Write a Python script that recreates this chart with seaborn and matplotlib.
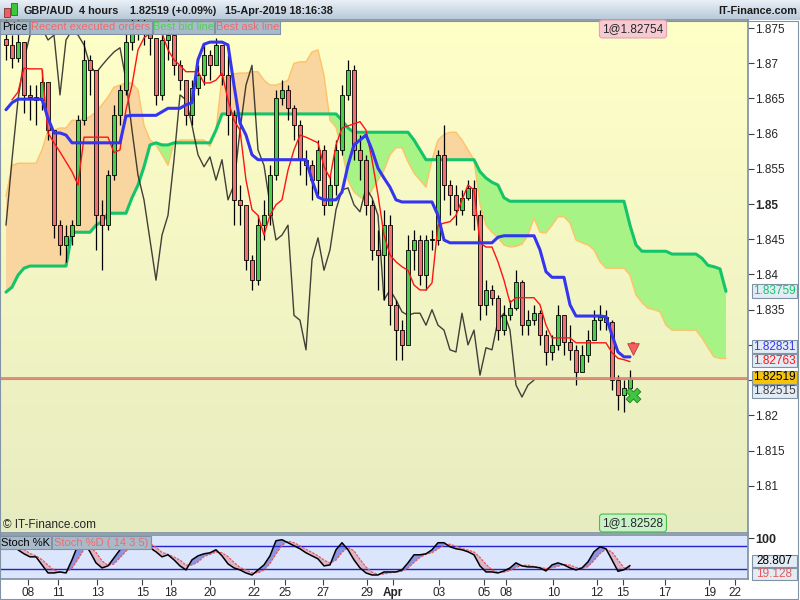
import numpy as np
import pandas as pd
import seaborn as sns
import matplotlib
matplotlib.use('Agg')
from matplotlib import pyplot as plt
from matplotlib.patches import Rectangle
from matplotlib.colors import LinearSegmentedColormap

sns.set_theme(style='white')
plt.rcParams['font.family'] = ['Liberation Sans', 'DejaVu Sans']

# GBP/AUD 4h bars (open = previous close)
first_open = 1.8735
close = [1.8726, 1.8707, 1.8730, 1.8655, 1.8652, 1.8648, 1.8673, 1.8605, 1.8470, 1.8442,
         1.8455, 1.8470, 1.8619, 1.8705, 1.8690, 1.8484, 1.8470, 1.8541, 1.8626, 1.8662,
         1.8730, 1.8750, 1.8754, 1.8747, 1.8736, 1.8655, 1.8733, 1.8740, 1.8697, 1.8676,
         1.8626, 1.8665, 1.8683, 1.8712, 1.8697, 1.8726, 1.8683, 1.8626, 1.8506, 1.8499,
         1.8421, 1.8392, 1.8470, 1.8484, 1.8541, 1.8651, 1.8662, 1.8636, 1.8612, 1.8563,
         1.8555, 1.8534, 1.8577, 1.8499, 1.8527, 1.8577, 1.8655, 1.8690, 1.8577, 1.8563,
         1.8499, 1.8435, 1.8428, 1.8470, 1.8357, 1.8321, 1.8300, 1.8435, 1.8449, 1.8399,
         1.8449, 1.8449, 1.8570, 1.8527, 1.8513, 1.8492, 1.8509, 1.8523, 1.8484, 1.8357,
         1.8378, 1.8367, 1.8321, 1.8342, 1.8352, 1.8389, 1.8328, 1.8335, 1.8345, 1.8314,
         1.8290, 1.8300, 1.8342, 1.8304, 1.8293, 1.8262, 1.8286, 1.8307, 1.8335, 1.8340,
         1.8333, 1.8250, 1.8229, 1.8239, 1.82519]
high = [1.8761, 1.8740, 1.8761, 1.8719, 1.8669, 1.8669, 1.8690, 1.8655, 1.8605, 1.8477,
        1.8470, 1.8477, 1.8626, 1.8733, 1.8712, 1.8634, 1.8506, 1.8548, 1.8641, 1.8669,
        1.8747, 1.8768, 1.8776, 1.8768, 1.8754, 1.8733, 1.8754, 1.8761, 1.8726, 1.8705,
        1.8669, 1.8676, 1.8697, 1.8726, 1.8719, 1.8736, 1.8726, 1.8712, 1.8634, 1.8527,
        1.8499, 1.8428, 1.8484, 1.8506, 1.8555, 1.8662, 1.8676, 1.8669, 1.8641, 1.8619,
        1.8577, 1.8563, 1.8591, 1.8584, 1.8541, 1.8591, 1.8669, 1.8705, 1.8697, 1.8598,
        1.8570, 1.8506, 1.8463, 1.8492, 1.8484, 1.8364, 1.8335, 1.8456, 1.8463, 1.8456,
        1.8456, 1.8463, 1.8577, 1.8612, 1.8534, 1.8527, 1.8520, 1.8534, 1.8534, 1.8492,
        1.8392, 1.8385, 1.8371, 1.8357, 1.8364, 1.8406, 1.8392, 1.8350, 1.8357, 1.8350,
        1.8321, 1.8314, 1.8357, 1.8342, 1.8328, 1.8300, 1.8300, 1.8321, 1.8350, 1.8357,
        1.8350, 1.8335, 1.8257, 1.8250, 1.8264]
low = [1.8705, 1.8693, 1.8702, 1.8630, 1.8619, 1.8612, 1.8634, 1.8591, 1.8452, 1.8428,
       1.8418, 1.8442, 1.8470, 1.8612, 1.8655, 1.8435, 1.8406, 1.8463, 1.8534, 1.8612,
       1.8655, 1.8719, 1.8733, 1.8726, 1.8712, 1.8641, 1.8648, 1.8705, 1.8683, 1.8662,
       1.8612, 1.8612, 1.8655, 1.8669, 1.8676, 1.8705, 1.8669, 1.8598, 1.8470, 1.8470,
       1.8406, 1.8378, 1.8385, 1.8449, 1.8470, 1.8534, 1.8641, 1.8619, 1.8591, 1.8541,
       1.8527, 1.8506, 1.8513, 1.8484, 1.8499, 1.8513, 1.8570, 1.8648, 1.8563, 1.8534,
       1.8484, 1.8421, 1.8378, 1.8364, 1.8328, 1.8279, 1.8279, 1.8321, 1.8406, 1.8385,
       1.8378, 1.8435, 1.8442, 1.8506, 1.8484, 1.8470, 1.8484, 1.8506, 1.8463, 1.8335,
       1.8342, 1.8357, 1.8307, 1.8314, 1.8335, 1.8350, 1.8314, 1.8314, 1.8328, 1.8300,
       1.8271, 1.8279, 1.8293, 1.8286, 1.8279, 1.8243, 1.8264, 1.8276, 1.8314, 1.8321,
       1.8321, 1.8236, 1.8208, 1.8205, 1.8236]

# ichimoku lines
kijun = [1.8634, 1.8644, 1.8649, 1.8649, 1.8649, 1.8649, 1.8649, 1.8622, 1.8601, 1.8601,
         1.8598, 1.8587, 1.8587, 1.8587, 1.8587, 1.8587, 1.8587, 1.8587, 1.8587, 1.8587,
         1.8625, 1.8626, 1.8626, 1.8626, 1.8626, 1.8626, 1.8631, 1.8636, 1.8636, 1.8636,
         1.8641, 1.8644, 1.8705, 1.8727, 1.8730, 1.8730, 1.8730, 1.8726, 1.8669, 1.8615,
         1.8598, 1.8570, 1.8563, 1.8563, 1.8563, 1.8563, 1.8563, 1.8563, 1.8563, 1.8563,
         1.8563, 1.8534, 1.8510, 1.8506, 1.8506, 1.8506, 1.8517, 1.8555, 1.8584, 1.8591,
         1.8598, 1.8577, 1.8551, 1.8537, 1.8524, 1.8506, 1.8503, 1.8503, 1.8503, 1.8503,
         1.8503, 1.8503, 1.8484, 1.8449, 1.8445, 1.8445, 1.8445, 1.8445, 1.8445, 1.8445,
         1.8445, 1.8445, 1.8453, 1.8455, 1.8455, 1.8455, 1.8455, 1.8455, 1.8455, 1.8435,
         1.8404, 1.8396, 1.8396, 1.8396, 1.8357, 1.8341, 1.8341, 1.8341, 1.8341, 1.8341,
         1.8340, 1.8314, 1.8290, 1.8283, 1.8283]
tenkan = [1.8648, 1.8659, 1.8693, 1.8692, 1.8692, 1.8692, 1.8601, 1.8587, 1.8574,
          1.8560, 1.8546, 1.8527, 1.8595, 1.8595, 1.8595, 1.8595, 1.8595, 1.8573, 1.8577,
          1.8634, 1.8669, 1.8719, 1.8736, 1.8743, 1.8743, 1.8743, 1.8719, 1.8705, 1.8697,
          1.8688, 1.8688, 1.8688, 1.8672, 1.8672, 1.8676, 1.8686, 1.8648, 1.8619, 1.8605,
          1.8534, 1.8492, 1.8484, 1.8456, 1.8484, 1.8499, 1.8506, 1.8548, 1.8577, 1.8598,
          1.8595, 1.8591, 1.8587, 1.8553, 1.8537, 1.8584, 1.8608, 1.8611, 1.8614, 1.8617,
          1.8605, 1.8563, 1.8513, 1.8456, 1.8428, 1.8418, 1.8411, 1.8406, 1.8385, 1.8378,
          1.8378, 1.8388, 1.8470, 1.8473, 1.8475, 1.8484, 1.8506, 1.8527, 1.8520, 1.8445,
          1.8439, 1.8439, 1.8418, 1.8392, 1.8360, 1.8367, 1.8367, 1.8367, 1.8367, 1.8357,
          1.8328, 1.8310, 1.8310, 1.8310, 1.8310, 1.8303, 1.8303, 1.8303, 1.8303, 1.8303,
          1.8303, 1.8289, 1.8281, 1.8279, 1.82763]
chikou = [1.8470, 1.8563, 1.8648, 1.8705, 1.8740, 1.8754, 1.8750, 1.8733, 1.8740, 1.8655,
          1.8733, 1.8747, 1.8740, 1.8726, 1.8697, 1.8686, 1.8697, 1.8707, 1.8716, 1.8722,
          1.8676, 1.8605, 1.8541, 1.8506, 1.8449, 1.8392, 1.8456, 1.8484, 1.8563, 1.8655,
          1.8648, 1.8612, 1.8570, 1.8553, 1.8567, 1.8534, 1.8563, 1.8506, 1.8527, 1.8605,
          1.8669, 1.8697, 1.8577, 1.8555, 1.8499, 1.8449, 1.8456, 1.8470, 1.8342, 1.8335,
          1.8293, 1.8421, 1.8452, 1.8406, 1.8435, 1.8492, 1.8520, 1.8523, 1.8499, 1.8489,
          1.8523, 1.8509, 1.8484, 1.8364, 1.8378, 1.8364, 1.8347, 1.8342, 1.8345, 1.8345,
          1.8328, 1.8350, 1.8328, 1.8321, 1.8293, 1.8290, 1.8345, 1.8300, 1.8321, 1.8257,
          1.8296, 1.8293, 1.8335, 1.8345, 1.8321, 1.8243, 1.8226, 1.8243, 1.8250]
span_a = [1.8511, 1.8555, 1.8558, 1.8558, 1.8558, 1.8558, 1.8577, 1.8605, 1.8605, 1.8608,
          1.8608, 1.8619, 1.8619, 1.8621, 1.8624, 1.8631, 1.8641, 1.8652, 1.8666, 1.8669,
          1.8672, 1.8672, 1.8662, 1.8612, 1.8591, 1.8584, 1.8570, 1.8555, 1.8587, 1.8591,
          1.8591, 1.8591, 1.8591, 1.8591, 1.8582, 1.8605, 1.8680, 1.8680, 1.8685, 1.8686,
          1.8686, 1.8688, 1.8688, 1.8676, 1.8669, 1.8669, 1.8672, 1.8676, 1.8700, 1.8702,
          1.8702, 1.8716, 1.8719, 1.8683, 1.8619, 1.8609, 1.8577, 1.8534, 1.8517, 1.8510,
          1.8506, 1.8520, 1.8534, 1.8548, 1.8570, 1.8580, 1.8580, 1.8560, 1.8544, 1.8534,
          1.8524, 1.8563, 1.8591, 1.8599, 1.8602, 1.8602, 1.8591, 1.8577, 1.8563, 1.8499,
          1.8470, 1.8460, 1.8452, 1.8442, 1.8439, 1.8440, 1.8443, 1.8456, 1.8480, 1.8460,
          1.8459, 1.8470, 1.8482, 1.8482, 1.8473, 1.8449, 1.8445, 1.8442, 1.8435, 1.8418,
          1.8409, 1.8409, 1.8409, 1.8409, 1.8399, 1.8371, 1.8360, 1.8352, 1.8350, 1.8347,
          1.8328, 1.8321, 1.8321, 1.8321, 1.8321, 1.8321, 1.8310, 1.8296, 1.8283, 1.8281,
          1.8281]
span_b = [1.8375, 1.8382, 1.8399, 1.8409, 1.8412, 1.8412, 1.8412, 1.8412, 1.8412, 1.8412,
          1.8412, 1.8460, 1.8460, 1.8460, 1.8460, 1.8470, 1.8475, 1.8487, 1.8487, 1.8487,
          1.8487, 1.8509, 1.8527, 1.8553, 1.8584, 1.8587, 1.8584, 1.8584, 1.8587, 1.8587,
          1.8587, 1.8587, 1.8587, 1.8587, 1.8587, 1.8605, 1.8628, 1.8628, 1.8628, 1.8628,
          1.8628, 1.8628, 1.8628, 1.8628, 1.8628, 1.8628, 1.8628, 1.8628, 1.8628, 1.8628,
          1.8628, 1.8628, 1.8628, 1.8628, 1.8628, 1.8628, 1.8619, 1.8608, 1.8602, 1.8602,
          1.8602, 1.8602, 1.8602, 1.8602, 1.8602, 1.8602, 1.8602, 1.8602, 1.8591, 1.8577,
          1.8563, 1.8563, 1.8563, 1.8563, 1.8563, 1.8563, 1.8563, 1.8563, 1.8563, 1.8546,
          1.8537, 1.8531, 1.8527, 1.8509, 1.8504, 1.8504, 1.8504, 1.8504, 1.8504, 1.8504,
          1.8504, 1.8504, 1.8504, 1.8504, 1.8504, 1.8504, 1.8504, 1.8504, 1.8504, 1.8504,
          1.8504, 1.8504, 1.8504, 1.8504, 1.8470, 1.8442, 1.8433, 1.8433, 1.8433, 1.8433,
          1.8433, 1.8429, 1.8429, 1.8429, 1.8429, 1.8429, 1.8423, 1.8413, 1.8411, 1.8408,
          1.8376]

# stochastic
stoch_k = [77.5, 82.8, 69.7, 59.3, 51.4, 51.4, 30.5, 9.7, 9.7, 12.3,
           9.7, 43.6, 82.8, 88.0, 64.5, 35.8, 22.7, 27.9, 48.8, 69.7,
           80.2, 95.8, 95.8, 88.0, 74.9, 64.5, 51.4, 56.7, 43.6, 27.9,
           17.5, 43.6, 54.0, 59.3, 61.9, 69.7, 54.0, 33.2, 22.7, 17.5,
           9.7, 4.4, 17.5, 30.5, 54.0, 93.2, 95.8, 88.0, 80.2, 72.3,
           61.9, 54.0, 46.2, 27.9, 30.5, 69.7, 88.0, 69.7, 43.6, 22.7,
           9.7, 4.4, 4.4, 12.3, 12.3, 12.3, 17.5, 35.8, 56.7, 56.7,
           59.3, 69.7, 88.0, 88.0, 77.5, 72.3, 69.7, 64.5, 56.7, 27.9,
           12.3, 12.3, 9.7, 14.9, 22.7, 35.8, 27.9, 25.3, 25.3, 22.7,
           14.9, 30.5, 35.8, 30.5, 22.7, 17.5, 22.7, 38.4, 64.5, 77.5,
           72.3, 43.6, 14.0, 18.0, 28.807]
stoch_d = [70, 76, 77, 71, 60, 54, 44, 30, 17, 11,
           11, 22, 45, 71, 78, 63, 41, 29, 33, 49,
           66, 82, 90, 93, 86, 76, 63, 58, 51, 43,
           30, 30, 38, 52, 58, 64, 62, 52, 37, 24,
           17, 10, 10, 17, 34, 59, 81, 92, 88, 80,
           71, 63, 54, 43, 35, 43, 63, 76, 67, 45,
           25, 12, 6, 7, 10, 12, 14, 22, 37, 50,
           58, 62, 72, 82, 84, 79, 73, 69, 64, 50,
           32, 18, 11, 12, 16, 24, 29, 30, 26, 24,
           21, 23, 27, 32, 30, 24, 21, 26, 42, 60,
           71, 64, 43, 23, 19.128]

date_pos = [3.7, 8.7, 15.2, 22.7, 27.5, 34.0, 41.3, 46.5, 52.8, 60.2,
            64.5, 72.2, 79.7, 83.3, 91.2, 98.5, 102.8, 109.8, 117.2, 121.5]
date_labels = ['08', '11', '13', '15', '18', '20', '22', '25', '27', '29',
               'Apr', '03', '05', '08', '10', '12', '15', '17', '19', '22']
# 1.825 and 1.83 sit under the price tags, so their labels stay hidden
price_ticks = [1.81, 1.815, 1.82, 1.825, 1.83, 1.835, 1.84, 1.845, 1.85,
               1.855, 1.86, 1.865, 1.87, 1.875]
price_labels = ['1.81', '1.815', '1.82', '', '', '1.835', '1.84', '1.845', '1.85',
                '1.855', '1.86', '1.865', '1.87', '1.875']
sell_mark = 1.8294
buy_mark = 1.8229
ask_price = 1.82526
bid_price = 1.82511

W, H = 800, 600
fig = plt.figure(figsize=(8, 6), dpi=100, facecolor='white')

# header
ax_h = fig.add_axes([0, 1 - 20 / H, 1, 20 / H])
hdr = LinearSegmentedColormap.from_list('hdr', ['#e9eff6', '#b7c8d8'])
ax_h.imshow(np.linspace(0, 1, 64).reshape(-1, 1), cmap=hdr, aspect='auto', extent=[0, 1, 0, 1])
ax_h.axis('off')

ax = fig.add_axes([0, 1 - 533 / H, 748 / W, 513 / H])
ax_s = fig.add_axes([0, 1 - 579 / H, 748 / W, 44 / H])

bg = LinearSegmentedColormap.from_list('bg', ['#ffffc8', '#e7ecc0'])
ax.imshow(np.linspace(0, 1, 256).reshape(-1, 1), cmap=bg, aspect='auto',
          extent=[0, 1, 0, 1], transform=ax.transAxes, zorder=0)

# cloud
cl = np.arange(len(span_a))
sa, sb = np.array(span_a), np.array(span_b)
ax.fill_between(cl, sa, sb, where=sa >= sb, interpolate=True, color='#f9d59f', lw=0, zorder=1)
ax.fill_between(cl, sa, sb, where=sa < sb, interpolate=True, color='#a8f385', lw=0, zorder=1)
sns.lineplot(x=cl, y=span_a, ax=ax, color='#ffc26a', linewidth=1, zorder=2)
sns.lineplot(x=cl, y=span_b, ax=ax, color='#14c46a', linewidth=2.2, zorder=2)
sns.lineplot(x=np.arange(len(chikou)), y=chikou, ax=ax, color='#202020', linewidth=1, alpha=0.85, zorder=3)

# candles
bars = pd.DataFrame({'close': close, 'high': high, 'low': low})
bars['i'] = np.arange(len(bars))
bars['open'] = bars['close'].shift(1)
bars.loc[0, 'open'] = first_open
bars['top'] = bars[['open', 'close']].max(axis=1)
bars['bot'] = bars[['open', 'close']].min(axis=1)
bars['hi'] = bars[['high', 'top']].max(axis=1)
bars['lo'] = bars[['low', 'bot']].min(axis=1)
body = (bars['top'] - bars['bot']).clip(lower=0.00008)
colors = np.where(bars['close'] >= bars['open'], '#4ccc4c', '#ee7272')
ax.vlines(bars['i'], bars['lo'], bars['hi'], color='black', lw=0.9, zorder=4)
ax.bar(bars['i'], body, bottom=bars['bot'], width=0.62, color=colors,
       edgecolor='black', linewidth=0.6, zorder=5)

sns.lineplot(x=np.arange(1, len(tenkan) + 1), y=tenkan, ax=ax, color='#ff1414', linewidth=1, zorder=6)
sns.lineplot(x=bars['i'], y=kijun, ax=ax, color='#3535f0', linewidth=2.2, zorder=7)

ax.axhline(ask_price, color='#f06a6a', lw=1.1, zorder=8)
ax.axhline(bid_price, color='#5cc85c', lw=0.8, zorder=8)

# order markers on the last bar
last = bars['i'].iloc[-1] + 0.5
ax.bar([last], [0.0009], bottom=[sell_mark + 0.0001], width=0.5, color='#f26262',
       edgecolor='#c03a3a', linewidth=0.6, zorder=9)
ax.scatter([last], [sell_mark], marker='v', s=70, c='#f26262', edgecolors='#c03a3a',
           linewidths=0.6, zorder=10)
ax.scatter([last], [buy_mark], marker='X', s=110, c='#44c244', edgecolors='#228a22',
           linewidths=0.7, zorder=9)

ax.set_xlim(-1, 123.67)
ax.set_ylim(1.80329, 1.87614)
ax.set_xticks([])
ax.yaxis.tick_right()
ax.set_yticks(price_ticks)
ax.set_yticklabels(price_labels)
ax.tick_params(axis='y', right=True, direction='out', length=4, width=0.8,
               color='#404040', labelsize=8.5, pad=1)
for lab in ax.get_yticklabels():
    if lab.get_text() == '1.85':
        lab.set_fontweight('bold')
for s in ax.spines.values():
    s.set_color('#8193a5')
ax.set_ylabel('')

# stochastic pane
ax_s.set_facecolor('#dbe5fb')
k, d = np.array(stoch_k), np.array(stoch_d)
si = np.arange(len(k))
ax_s.fill_between(si, k, d, where=k >= d, interpolate=True, color='#8b95e4', lw=0)
ax_s.fill_between(si, k, d, where=k < d, interpolate=True, color='#dcb6c8', lw=0)
ax_s.axhline(80, color='#2222cc', lw=1)
ax_s.axhline(20, color='#2222cc', lw=1)
sns.lineplot(x=si, y=stoch_d, ax=ax_s, color='#e85a5a', linewidth=0.9, linestyle=(0, (2, 1)))
sns.lineplot(x=si, y=stoch_k, ax=ax_s, color='black', linewidth=1.1)
ax_s.set_xlim(-1, 123.67)
ax_s.set_ylim(-6, 108)
ax_s.set_xticks(date_pos)
ax_s.set_xticklabels(date_labels)
ax_s.tick_params(axis='x', bottom=True, direction='out', length=4, width=0.8,
                 color='#404040', labelsize=8.5, pad=1.5)
for lab in ax_s.get_xticklabels():
    if lab.get_text() == 'Apr':
        lab.set_fontweight('bold')
ax_s.yaxis.tick_right()
ax_s.set_yticks([100])
ax_s.set_yticklabels(['100'], fontweight='bold', fontsize=9)
ax_s.tick_params(axis='y', right=True, direction='out', length=4, width=0.8, color='#404040', pad=1)
ax_s.set_xlabel('')
ax_s.set_ylabel('')
for s in ax_s.spines.values():
    s.set_color('#8193a5')


def box(x0, y0, x1, y1, text, tc, fc='#a9bbcb', ec='#7f93a5', size=8, weight='normal'):
    fig.patches.append(Rectangle((x0 / W, 1 - y1 / H), (x1 - x0) / W, (y1 - y0) / H,
                                 transform=fig.transFigure, fc=fc, ec=ec, lw=0.8, zorder=10))
    fig.text((x0 + x1) / 2 / W, 1 - (y0 + y1) / 2 / H, text, color=tc, fontsize=size,
             fontweight=weight, ha='center', va='center', zorder=11)


# legend boxes
box(0, 21, 29, 34, 'Price', 'black')
box(30, 21, 152, 34, 'Recent executed orders', '#f06a6a')
box(153, 21, 214, 34, 'Best bid line', '#52d052')
box(215, 21, 280, 34, 'Best ask line', '#f06a6a')
box(0, 536, 51, 549, 'Stoch %K', 'black')
box(52, 536, 151, 549, 'Stoch %D ( 14 3 5)', '#f06a6a')

# price tags on the right axis
tag_fc = '#e3ebf5'
box(752, 284, 797, 298, '1.83759', '#14c46a', fc=tag_fc, size=8.5)
box(752, 340, 797, 353, '1.82831', '#3535f0', fc=tag_fc, size=8.5)
box(752, 354, 797, 367, '1.82763', '#ff1414', fc=tag_fc, size=8.5)
box(752, 385, 797, 398, '1.82515', '#404040', fc=tag_fc, size=8.5)
box(752, 371, 797, 384, '1.82519', 'black', fc='#f6c40a', size=8.5)
box(752, 555, 797, 567, '28.807', 'black', fc=tag_fc, size=8.5)
box(752, 568, 797, 580, '19.128', '#e85a5a', fc=tag_fc, size=8.5)

# order tags
fig.text(633 / W, 1 - 29 / H, '1@1.82754', fontsize=8.5, ha='center', va='center', zorder=11,
         bbox=dict(boxstyle='round,pad=0.25', fc='#f6cad2', ec='#e8a0ac', lw=0.8))
fig.text(633 / W, 1 - 523 / H, '1@1.82528', fontsize=8.5, ha='center', va='center', zorder=11,
         bbox=dict(boxstyle='round,pad=0.25', fc='#c8f2c8', ec='#44c044', lw=0.8))
fig.text(3 / W, 1 - 525 / H, '\u00a9 IT-Finance.com', fontsize=8.5, ha='left', va='center', zorder=11)

# header text and icon
fig.patches.append(Rectangle((4 / W, 1 - 17 / H), 6 / W, 9 / H, transform=fig.transFigure,
                             fc='#e86060', ec='#803030', lw=0.6, zorder=10))
fig.patches.append(Rectangle((11 / W, 1 - 15 / H), 6 / W, 12 / H, transform=fig.transFigure,
                             fc='#3cc83c', ec='#207020', lw=0.6, zorder=10))
hy = 1 - 10.5 / H
for x0, txt in [(23, 'GBP/AUD'), (79, '4 hours'), (130, '1.82519 (+0.09%)'), (225, '15-Apr-2019 18:16:38')]:
    fig.text(x0 / W, hy, txt, fontsize=7.8, fontweight='bold', color='#1c1c1c',
             ha='left', va='center', zorder=12)
fig.text(797 / W, hy, 'IT-Finance.com', fontsize=7.8, fontweight='bold', color='#1c1c1c',
         ha='right', va='center', zorder=12)

fig.patches.append(Rectangle((0, 1 / H), 798 / W, 578 / H, transform=fig.transFigure,
                             fill=False, ec='#8193a5', lw=0.8, zorder=9))

fig.savefig('out.png', dpi=100)
